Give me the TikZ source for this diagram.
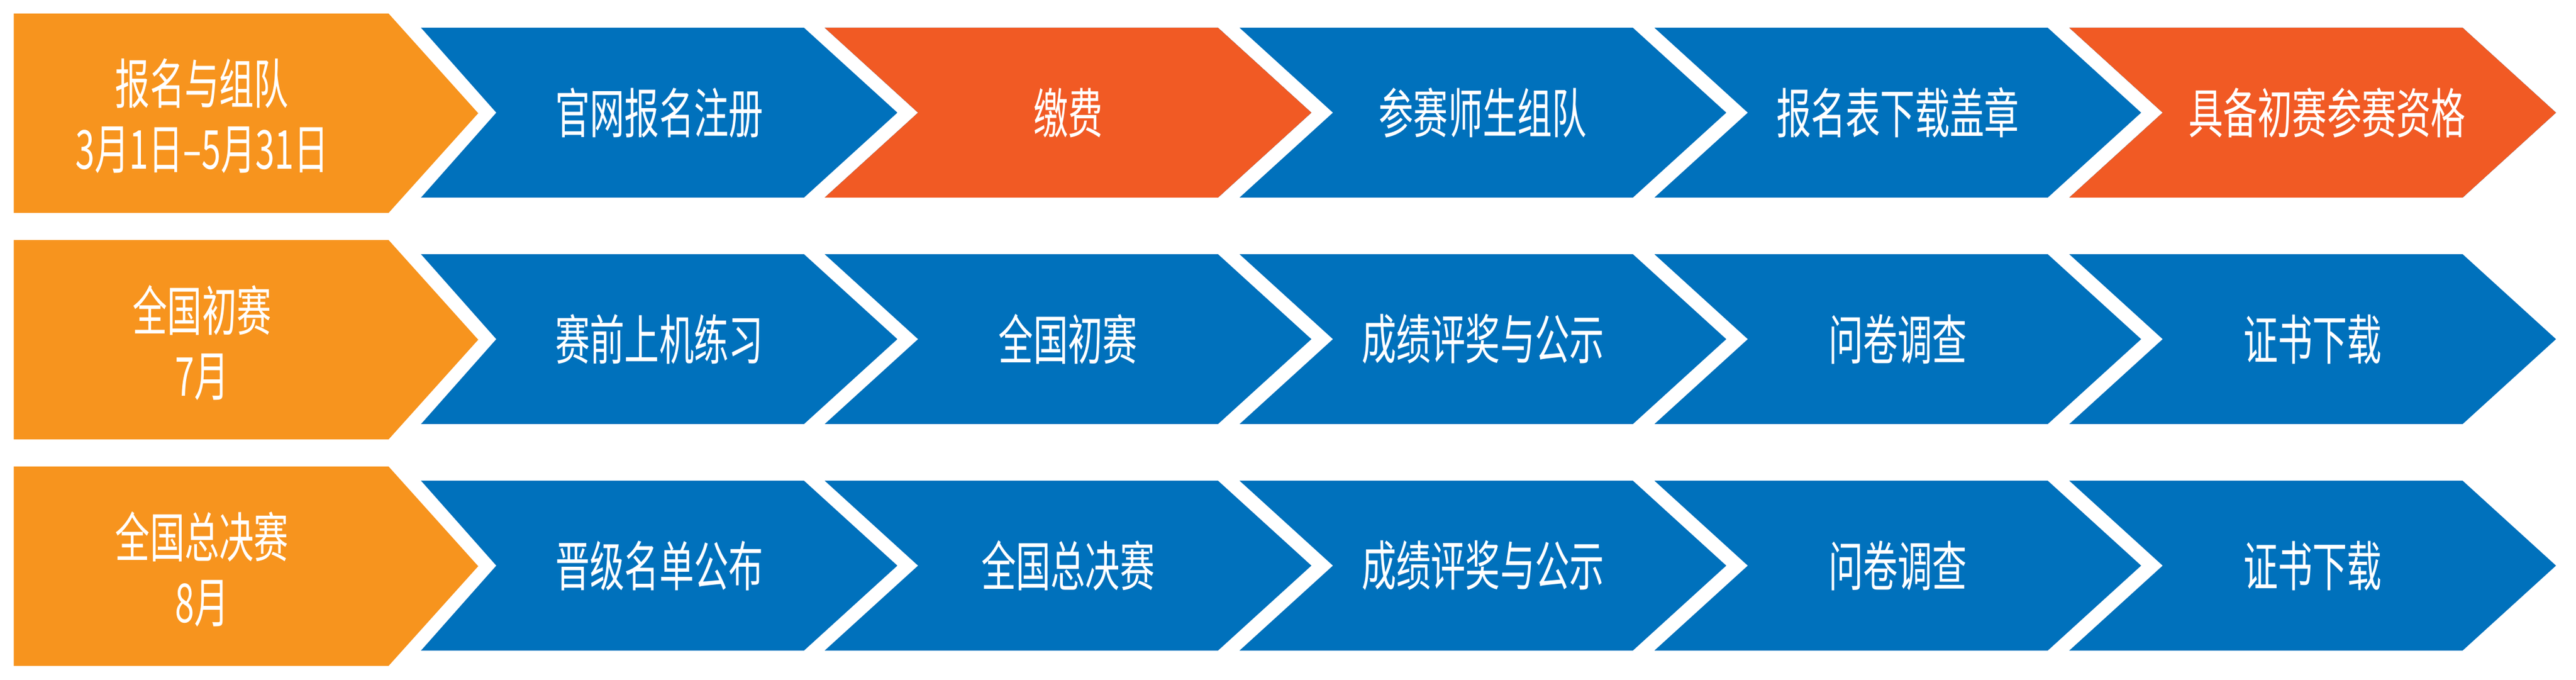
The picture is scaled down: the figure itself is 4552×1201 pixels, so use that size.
\documentclass[tikz,border=0pt]{standalone}
\usepackage{fontspec}
\newfontfamily\cjk{Noto Sans CJK SC}
\definecolor{stageorange}{HTML}{F7941E}
\definecolor{keyorange}{HTML}{F15A24}
\definecolor{stepblue}{HTML}{0071BC}
\newcommand{\narrow}[1]{\scalebox{0.645}[1]{#1}}
\newcommand{\chevron}[3]{\fill[#3] (#1,#2-150) -- ++(695,0) -- ++(165,150) -- ++(-165,150) -- ++(-695,0) -- ++(165,-150) -- cycle;}
\tikzset{
	stage/.style     = {fill=stageorange},
	stepfill/.style  = {fill=stepblue},
	keyfill/.style   = {fill=keyorange},
	steptext/.style  = {text=white, inner sep=0pt, font=\cjk\fontsize{27}{32.7}\selectfont},
	stagetext/.style = {steptext, align=center} % two lines
}
\begin{document}
\begin{tikzpicture}[x=0.01cm, y=-0.01cm]
	\useasboundingbox (0,0) rectangle (4552,1201);

	% stages on the left
	\foreach \yc in {200,600,1000}
		\fill[stage] (24.3,\yc-176) -- (686.7,\yc-176) -- (845,\yc) -- (686.7,\yc+176) -- (24.3,\yc+176) -- cycle;

	% first step of each row has a flatter notch
	\foreach \yc in {199,599,999}
		\fill[stepfill] (744,\yc-150) -- (1420.7,\yc-150) -- (1585.7,\yc) -- (1420.7,\yc+150) -- (744,\yc+150) -- (877,\yc) -- cycle;

	\foreach \yc in {199,599,999}{
		\foreach \xl in {1457.3,2190.4,2923.5,3656.6}{
			\chevron{\xl}{\yc}{stepfill}
		}
	}
	\chevron{1457.3}{199}{keyfill}
	\chevron{3656.6}{199}{keyfill}

	\draw
	node at (357,205)[stagetext] (st1) {\narrow{报名与组队}\\\narrow{3月1日–5月31日}}
	node at (357,605)[stagetext] (st2) {\narrow{全国初赛}\\\narrow{7月}}
	node at (357,1005)[stagetext] (st3) {\narrow{全国总决赛}\\\narrow{8月}}
	;

	\draw
	node at (1165,199)[steptext] (a1) {\narrow{官网报名注册}}
	node at (1887.3,199)[steptext] (a2) {\narrow{缴费}}
	node at (2620.4,199)[steptext] (a3) {\narrow{参赛师生组队}}
	node at (3353.5,199)[steptext] (a4) {\narrow{报名表下载盖章}}
	node at (4112,199)[steptext] (a5) {\narrow{具备初赛参赛资格}}
	node at (1165,599)[steptext] (b1) {\narrow{赛前上机练习}}
	node at (1887.3,599)[steptext] (b2) {\narrow{全国初赛}}
	node at (2620.4,599)[steptext] (b3) {\narrow{成绩评奖与公示}}
	node at (3353.5,599)[steptext] (b4) {\narrow{问卷调查}}
	node at (4086.6,599)[steptext] (b5) {\narrow{证书下载}}
	node at (1165,999)[steptext] (c1) {\narrow{晋级名单公布}}
	node at (1887.3,999)[steptext] (c2) {\narrow{全国总决赛}}
	node at (2620.4,999)[steptext] (c3) {\narrow{成绩评奖与公示}}
	node at (3353.5,999)[steptext] (c4) {\narrow{问卷调查}}
	node at (4086.6,999)[steptext] (c5) {\narrow{证书下载}}
	;
\end{tikzpicture}
\end{document}
